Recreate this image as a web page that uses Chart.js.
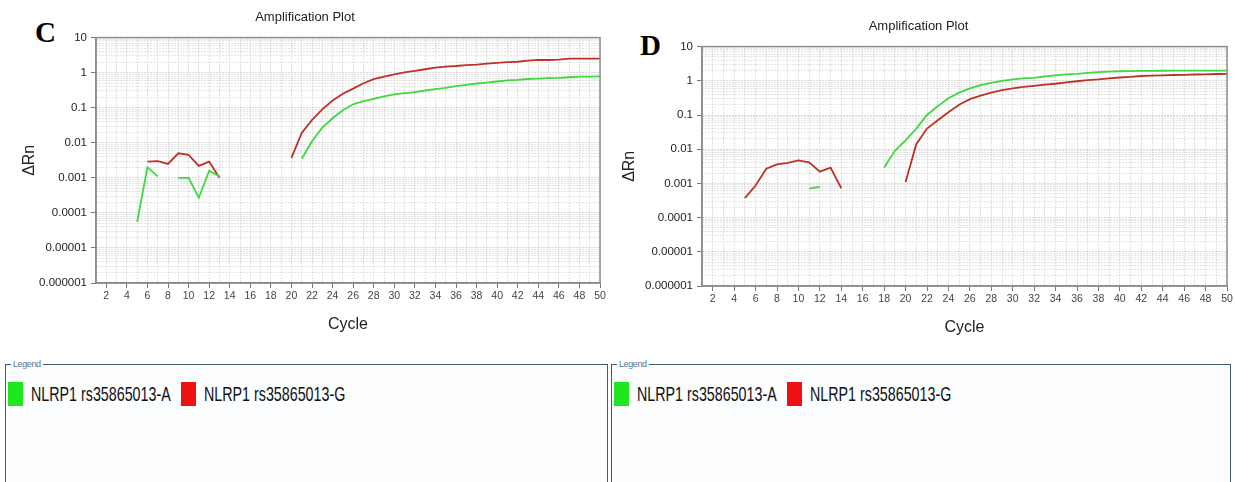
<!DOCTYPE html>
<html>
<head>
<meta charset="utf-8">
<script src="https://cdn.jsdelivr.net/npm/chart.js@4"></script>
<style>
body{margin:0;background:#fff;width:1235px;height:482px;position:relative;overflow:hidden;font-family:"Liberation Sans",Arial,sans-serif}
canvas{position:absolute}
.tag{position:absolute;font-family:"Liberation Serif","Times New Roman",serif;font-weight:bold;font-size:29px;line-height:1}
fieldset.leg{position:absolute;margin:0;padding:13px 0 0 2px;border:1.5px solid #3f5d7a;background:#fbfdfe;box-sizing:border-box}
fieldset.leg legend{font-size:9px;letter-spacing:-0.4px;color:#5a7894;padding:0 2px;margin-left:3px}
.item{display:inline-flex;align-items:center}
.sw{display:inline-block;width:15px;height:24px;margin-right:8px}
.lbl{display:inline-block;font-size:21px;color:#111;white-space:nowrap;transform:scaleX(0.68);transform-origin:left center}
</style>
</head>
<body>
<div class="tag" style="left:35px;top:18px">C</div>
<div class="tag" style="left:640px;top:31px">D</div>
<canvas id="chartC" width="610" height="345" style="left:0;top:0"></canvas>
<canvas id="chartD" width="625" height="339" style="left:610px;top:9px"></canvas>
<fieldset class="leg" id="legC" style="left:5px;top:359px;width:603px;height:130px"><legend>Legend</legend></fieldset>
<fieldset class="leg" id="legD" style="left:611px;top:359px;width:620px;height:130px"><legend>Legend</legend></fieldset>
<script>
// cycles 1..50
const cycles = [1,2,3,4,5,6,7,8,9,10,11,12,13,14,15,16,17,18,19,20,
  21,22,23,24,25,26,27,28,29,30,31,32,33,34,35,36,37,38,39,40,
  41,42,43,44,45,46,47,48,49,50];

const yTickLabels = ['10','1','0.1','0.01','0.001','0.0001','0.00001','0.000001'];
const seriesNames = ['NLRP1 rs35865013-A', 'NLRP1 rs35865013-G'];

// panel C
const cAllelA = [null,null,null,null,0.000055,0.002,0.0011,null,0.001,0.001,0.00027,0.0016,0.0011,null,null,null,null,null,null,null,
  0.0035,0.011,0.027,0.05,0.085,0.125,0.155,0.18,0.21,0.24,0.26,0.28,0.31,0.34,0.37,0.41,0.45,0.49,0.52,0.56,
  0.6,0.62,0.66,0.68,0.7,0.71,0.74,0.77,0.77,0.78];
const cAllelG = [null,null,null,null,null,0.0029,0.003,0.0025,0.005,0.0045,0.0022,0.0029,0.001,null,null,null,null,null,null,0.0037,
  0.019,0.045,0.09,0.16,0.25,0.35,0.5,0.65,0.77,0.9,1.02,1.12,1.25,1.4,1.48,1.55,1.65,1.7,1.8,1.9,
  2.0,2.05,2.2,2.3,2.3,2.35,2.5,2.5,2.5,2.5];

// panel D
const dAllelA = [null,null,null,null,null,null,null,null,null,null,0.0007,0.0008,null,null,null,null,null,0.0029,0.009,0.018,
  0.04,0.1,0.18,0.31,0.45,0.6,0.75,0.87,1.0,1.1,1.18,1.22,1.35,1.45,1.55,1.6,1.7,1.8,1.85,1.9,
  1.92,1.95,1.96,1.97,1.98,1.98,1.98,1.98,1.98,1.98];
const dAllelG = [null,null,null,null,0.00037,0.00087,0.0027,0.0036,0.004,0.0047,0.0041,0.0022,0.0029,0.00072,null,null,null,null,null,0.0011,
  0.014,0.04,0.07,0.12,0.2,0.29,0.37,0.45,0.53,0.6,0.66,0.71,0.77,0.82,0.9,0.97,1.05,1.1,1.18,1.25,
  1.3,1.38,1.42,1.45,1.48,1.5,1.53,1.55,1.58,1.6];

const lineColors = ['#3fd93f', '#bd3129'];
const swatchColors = ['#1fe61f', '#ee1111'];

Chart.defaults.font.family = '"Liberation Sans", Arial, sans-serif';
Chart.defaults.color = '#333';

const framePlugin = {
  id: 'frame',
  afterDatasetsDraw(chart) {
    const {ctx, chartArea: a} = chart;
    ctx.save();
    ctx.strokeStyle = '#8c8c8c';
    ctx.lineWidth = 1.5;
    ctx.strokeRect(a.left, a.top, a.right - a.left, a.bottom - a.top);
    ctx.restore();
  }
};

function logTicks(scale) {
  const majors = yTickLabels.map(Number).sort((a, b) => a - b);
  const ticks = [];
  majors.forEach((m, i) => {
    ticks.push({value: m, major: true});
    if (i < majors.length - 1) {
      for (let k = 2; k < 10; k++) ticks.push({value: m * k, major: false});
    }
  });
  scale.ticks = ticks;
}

function yLabel(v) {
  const l = yTickLabels.find(s => Math.abs(Number(s) - v) / v < 1e-6);
  return l || '';
}

function makeChart(id, valsA, valsG, padLeft, padRight, yWidth) {
  const data = {
    datasets: [valsA, valsG].map((vals, i) => ({
      label: seriesNames[i],
      data: cycles.map((c, j) => ({x: c, y: vals[j]})),
      borderColor: lineColors[i],
      borderWidth: 1.8,
      pointRadius: 0,
      tension: 0,
      spanGaps: false
    }))
  };
  return new Chart(document.getElementById(id), {
    type: 'line',
    data: data,
    options: {
      responsive: false,
      animation: false,
      layout: {padding: {left: padLeft, right: padRight, top: 7, bottom: 7}},
      plugins: {
        legend: {display: false},
        tooltip: {enabled: false},
        title: {
          display: true,
          text: 'Amplification Plot',
          color: '#222',
          font: {size: 13, weight: 'normal'},
          padding: {top: 3, bottom: 12}
        }
      },
      scales: {
        x: {
          type: 'linear',
          min: 1,
          max: 50,
          afterBuildTicks: s => { s.ticks = cycles.map(v => ({value: v})); },
          afterFit: s => { s.height = 55; },
          ticks: {
            autoSkip: false,
            maxRotation: 0,
            padding: 2,
            font: {size: 10.5},
            color: '#444',
            callback: v => (v % 2 === 0 ? String(v) : '')
          },
          grid: {
            color: '#c2c2c2',
            tickLength: 5,
            tickColor: c => (c.tick && c.tick.value % 2 === 0 ? '#777' : 'rgba(0,0,0,0)')
          },
          border: {color: '#8c8c8c', width: 1.5, dash: [1, 2]},
          title: {display: true, text: 'Cycle', color: '#222', font: {size: 16}, padding: {top: 0, bottom: 4}}
        },
        y: {
          type: 'logarithmic',
          min: 0.000001,
          max: 10,
          afterBuildTicks: logTicks,
          afterFit: s => { s.width = yWidth; },
          ticks: {
            autoSkip: false,
            padding: 4,
            font: {size: 11.5},
            color: '#222',
            callback: (v, i, t) => (t[i] && t[i].major ? yLabel(v) : '')
          },
          grid: {
            color: c => (c.tick && c.tick.major ? '#b4b4b4' : '#c8c8c8'),
            tickLength: 5,
            tickColor: c => (c.tick && c.tick.major ? '#777' : 'rgba(0,0,0,0)')
          },
          border: {color: '#8c8c8c', width: 1.5, dash: [1, 2]},
          title: {display: true, text: 'ΔRn', color: '#222', font: {size: 16}, padding: {top: 10}}
        }
      }
    },
    plugins: [framePlugin]
  });
}

makeChart('chartC', cAllelA, cAllelG, 10, 10, 86);
makeChart('chartD', dAllelA, dAllelG, 0, 8, 92);

function buildLegend(id) {
  const box = document.getElementById(id);
  seriesNames.forEach((name, i) => {
    const item = document.createElement('span');
    item.className = 'item';
    item.innerHTML = '<span class="sw" style="background:' + swatchColors[i] + '"></span><span class="lbl">' + name + '</span>';
    box.appendChild(item);
    const lbl = item.querySelector('.lbl');
    const w = lbl.offsetWidth;
    lbl.style.marginRight = (-w * 0.32 + 10) + 'px';
  });
}
buildLegend('legC');
buildLegend('legD');
</script>
</body>
</html>
